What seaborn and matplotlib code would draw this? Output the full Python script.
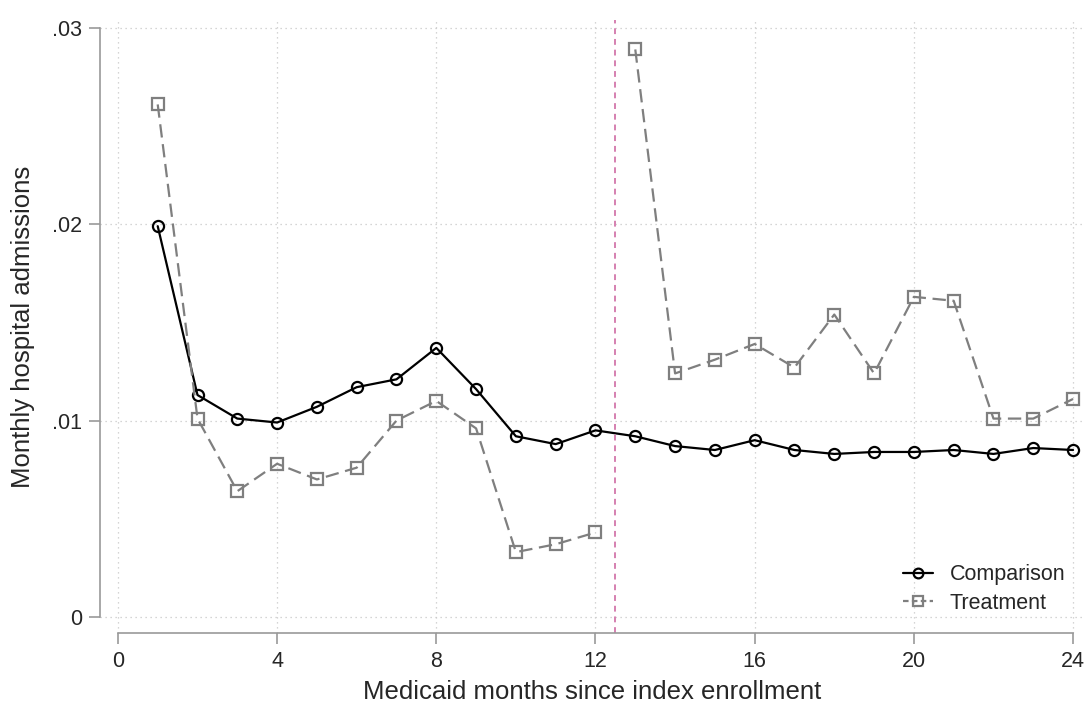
import pandas as pd
import seaborn as sns
import matplotlib.pyplot as plt
from matplotlib.lines import Line2D

# Monthly hospital admissions by Medicaid month
months = list(range(1, 25))
comparison = [0.0199, 0.0113, 0.0101, 0.0099, 0.0107, 0.0117, 0.0121, 0.0137,
              0.0116, 0.0092, 0.0088, 0.0095, 0.0092, 0.0087, 0.0085, 0.0090,
              0.0085, 0.0083, 0.0084, 0.0084, 0.0085, 0.0083, 0.0086, 0.0085]
treatment = [0.0261, 0.0101, 0.0064, 0.0078, 0.0070, 0.0076, 0.0100, 0.0110,
             0.0096, 0.0033, 0.0037, 0.0043, 0.0289, 0.0124, 0.0131, 0.0139,
             0.0127, 0.0154, 0.0124, 0.0163, 0.0161, 0.0101, 0.0101, 0.0111]
cutoff = 12.5
x_ticks = [0, 4, 8, 12, 16, 20, 24]
y_ticks = [0, 0.01, 0.02, 0.03]
y_tick_labels = ['0', '.01', '.02', '.03']

df = pd.DataFrame({
    'month': months * 2,
    'rate': comparison + treatment,
    'group': ['Comparison'] * 24 + ['Treatment'] * 24,
})
# treatment series is broken at the cutoff
df['segment'] = df['group'] + (df['month'] > cutoff).map({True: '_post', False: '_pre'})
df.loc[df['group'] == 'Comparison', 'segment'] = 'Comparison'

sns.set_style('white')
plt.rcParams['font.family'] = ['Liberation Sans', 'DejaVu Sans']

colors = {'Comparison': '#000000', 'Treatment': '#7f7f7f'}

fig = plt.figure(figsize=(10.88, 7.08), dpi=100)
ax = fig.add_axes([100 / 1088, 1 - 633 / 708, 985 / 1088, 613 / 708])

sns.lineplot(
    data=df, x='month', y='rate', hue='group', style='group', units='segment',
    estimator=None, palette=colors,
    markers={'Comparison': 'o', 'Treatment': 's'},
    dashes={'Comparison': '', 'Treatment': (6, 3)},
    linewidth=1.6, markersize=8, legend=False, ax=ax,
)
for line in ax.lines:
    c = line.get_color()
    line.set_markerfacecolor('none')
    line.set_markeredgecolor(c)
    line.set_markeredgewidth(1.6)

ax.axvline(cutoff, color='#d580b0', linestyle=(0, (3, 2.5)), linewidth=1.4)

ax.set_xlim(-0.45, 24.3)
ax.set_ylim(-0.00082, 0.0304)
ax.set_xticks(x_ticks)
ax.set_yticks(y_ticks)
ax.set_yticklabels(y_tick_labels)
ax.tick_params(axis='both', labelsize=15.5, color='#999999', length=8, width=1.2,
               direction='out', left=True, bottom=True, pad=5)
ax.grid(True, linestyle=(0, (1, 3)), color='#c8c8c8', linewidth=0.9)

for side in ['top', 'right']:
    ax.spines[side].set_visible(False)
for side in ['left', 'bottom']:
    ax.spines[side].set_color('#999999')
    ax.spines[side].set_linewidth(1.2)
ax.spines['left'].set_bounds(0, 0.03)
ax.spines['bottom'].set_bounds(0, 24)

ax.set_xlabel('Medicaid months since index enrollment', fontsize=18.5, labelpad=6)
ax.set_ylabel('Monthly hospital admissions', fontsize=18.5, labelpad=12)

handles = [
    Line2D([], [], color='black', marker='o', markerfacecolor='none',
           markeredgecolor='black', markeredgewidth=1.6, linewidth=1.6, markersize=7),
    Line2D([], [], color='#7f7f7f', marker='s', markerfacecolor='none',
           markeredgecolor='#7f7f7f', markeredgewidth=1.6, linewidth=1.6,
           markersize=7, dashes=(2.5, 1.5)),
]
ax.legend(handles, ['Comparison', 'Treatment'], loc='lower right',
          bbox_to_anchor=(1.0, 0.0), frameon=False, fontsize=15.5,
          handlelength=1.4, handletextpad=0.8, labelspacing=0.35)

fig.savefig('out.png', dpi=100)
